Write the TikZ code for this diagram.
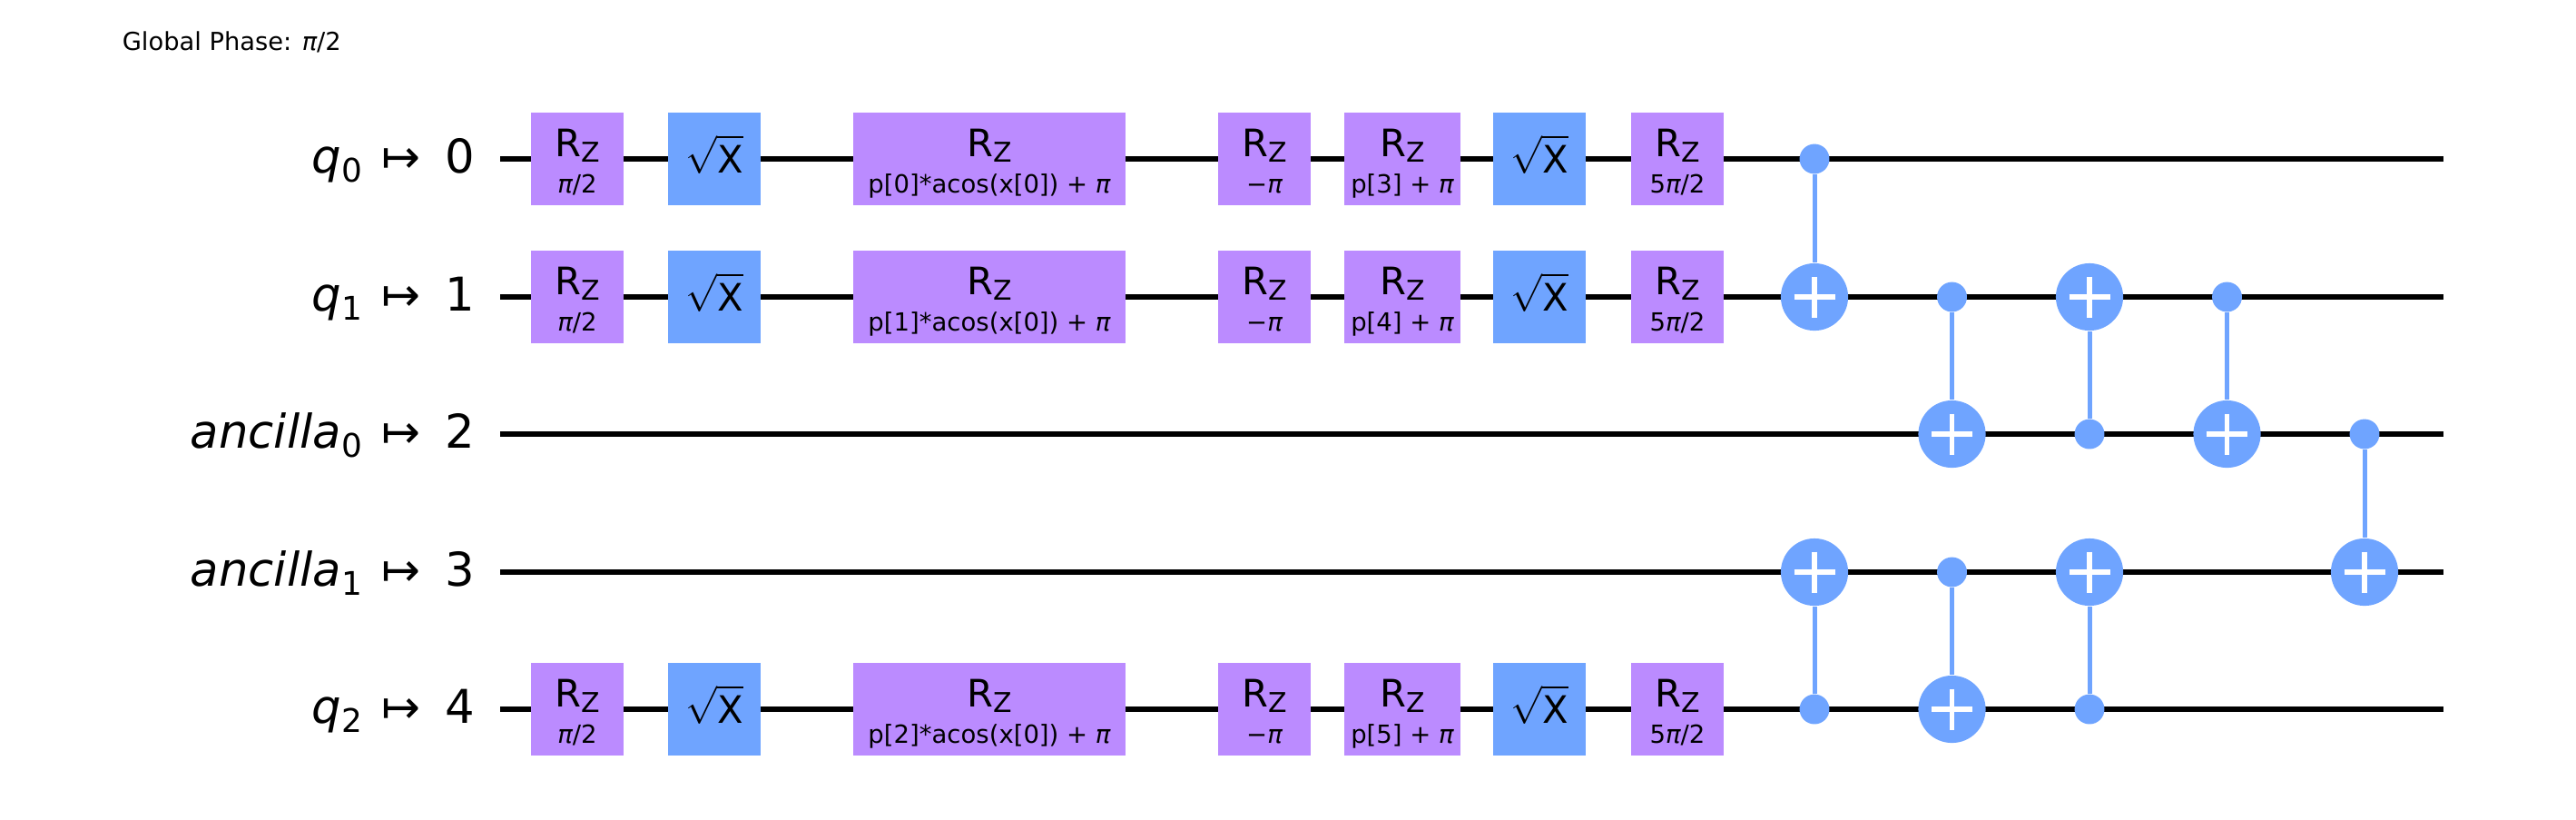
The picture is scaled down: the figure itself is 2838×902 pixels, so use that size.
\documentclass[tikz,border=0pt]{standalone}
\usepackage{fontspec}
\setmainfont{DejaVu Sans}
\usepackage{xcolor}
\definecolor{qcpurple}{RGB}{187,139,255}
\definecolor{qcblue}{RGB}{111,164,255}
\usetikzlibrary{positioning}
\newcommand{\fsub}[2]{\raisebox{-0.2em}{\fontsize{#1}{#1}\selectfont #2}}
\newcommand{\rzlabel}[1]{\raisebox{0.5pt}[0pt][0pt]{\begin{tabular}[t]{@{}c@{}}R\raisebox{-1.4pt}{\fontsize{7.2}{8}\selectfont Z}\\{\fontsize{6.6}{8}\selectfont #1}\end{tabular}}}
\newcommand{\sxlabel}{\raisebox{-3.6pt}[0pt][0pt]{$\sqrt{\rule{0pt}{8.2pt}\mathrm{X}}$}}
\newcommand{\maps}{\hspace{5.2pt}↦\hspace{6.5pt}}
\tikzset{
  wire/.style={line width=1.3pt, black},
  link/.style={line width=1.2pt, qcblue},
  basegate/.style={inner sep=0pt, minimum height=24.5pt, minimum width=24.5pt, font=\fontsize{10}{9.6}\selectfont},
  rzgate/.style={basegate, fill=qcpurple},
  sxgate/.style={basegate, fill=qcblue},
  ctrl/.style={circle, fill=qcblue, inner sep=0pt, minimum size=7.9pt},
  target/.style={circle, fill=qcblue, inner sep=0pt, minimum size=17.8pt,
    path picture={\draw[white, line width=1.4pt] (path picture bounding box.center) ++(-22.5,0) -- ++(45,0) (path picture bounding box.center) ++(0,-22.5) -- ++(0,45);}},
  qlabel/.style={anchor=base east, inner sep=0pt, font=\fontsize{12.3}{14}\selectfont}
}
\begin{document}
\begin{tikzpicture}[x=0.24pt, y=-0.24pt]
  \useasboundingbox (0,0) rectangle (2838,902);
  \node[anchor=base west, inner sep=0pt, font=\fontsize{6.55}{8}\selectfont] (phase) at (134,55) {Global Phase: {\itshape π}/2};

  % Wire labels
  \node[qlabel] (lab0) at (524,190) {{\itshape q}\fsub{8.6}{0}\maps 0};
  \node[qlabel] (lab1) at (524,342) {{\itshape q}\fsub{8.6}{1}\maps 1};
  \node[qlabel] (lab2) at (524,493) {{\itshape ancilla}\fsub{8.6}{0}\maps 2};
  \node[qlabel] (lab3) at (524,645) {{\itshape ancilla}\fsub{8.6}{1}\maps 3};
  \node[qlabel] (lab4) at (524,796) {{\itshape q}\fsub{8.6}{2}\maps 4};

  % Wires
  \coordinate (w0a) at (551,175);  \coordinate (w0b) at (2692,175);
  \coordinate (w1a) at (551,327);  \coordinate (w1b) at (2692,327);
  \coordinate (w2a) at (551,478);  \coordinate (w2b) at (2692,478);
  \coordinate (w3a) at (551,630);  \coordinate (w3b) at (2692,630);
  \coordinate (w4a) at (551,781);  \coordinate (w4b) at (2692,781);
  \draw[wire] (w0a) -- (w0b);
  \draw[wire] (w1a) -- (w1b);
  \draw[wire] (w2a) -- (w2b);
  \draw[wire] (w3a) -- (w3b);
  \draw[wire] (w4a) -- (w4b);

  % Top row: q0
  \node[rzgate] (a1) at (636,175) {\rzlabel{{\itshape π}/2}};
  \node[sxgate] (a2) at (787,175) {\sxlabel};
  \node[rzgate, minimum width=71.8pt] (a3) at (1090,175) {\rzlabel{p[0]*acos(x[0]) + {\itshape π}}};
  \node[rzgate] (a4) at (1393,175) {\rzlabel{−{\itshape π}}};
  \node[rzgate, minimum width=30.7pt] (a5) at (1545,175) {\rzlabel{p[3] + {\itshape π}}};
  \node[sxgate] (a6) at (1696,175) {\sxlabel};
  \node[rzgate] (a7) at (1848,175) {\rzlabel{5{\itshape π}/2}};

  % Second row: q1
  \node[rzgate] (b1) at (636,327) {\rzlabel{{\itshape π}/2}};
  \node[sxgate] (b2) at (787,327) {\sxlabel};
  \node[rzgate, minimum width=71.8pt] (b3) at (1090,327) {\rzlabel{p[1]*acos(x[0]) + {\itshape π}}};
  \node[rzgate] (b4) at (1393,327) {\rzlabel{−{\itshape π}}};
  \node[rzgate, minimum width=30.7pt] (b5) at (1545,327) {\rzlabel{p[4] + {\itshape π}}};
  \node[sxgate] (b6) at (1696,327) {\sxlabel};
  \node[rzgate] (b7) at (1848,327) {\rzlabel{5{\itshape π}/2}};

  % Bottom row: q2
  \node[rzgate] (c1) at (636,781) {\rzlabel{{\itshape π}/2}};
  \node[sxgate] (c2) at (787,781) {\sxlabel};
  \node[rzgate, minimum width=71.8pt] (c3) at (1090,781) {\rzlabel{p[2]*acos(x[0]) + {\itshape π}}};
  \node[rzgate] (c4) at (1393,781) {\rzlabel{−{\itshape π}}};
  \node[rzgate, minimum width=30.7pt] (c5) at (1545,781) {\rzlabel{p[5] + {\itshape π}}};
  \node[sxgate] (c6) at (1696,781) {\sxlabel};
  \node[rzgate] (c7) at (1848,781) {\rzlabel{5{\itshape π}/2}};

  % CX gates
  \node[ctrl] (s1) at (1999,175) {};
  \node[target] (t1) at (1999,327) {};
  \draw[link] (s1) -- (t1);
  \node[ctrl] (s2) at (1999,781) {};
  \node[target] (t2) at (1999,630) {};
  \draw[link] (s2) -- (t2);
  \node[ctrl] (s3) at (2150.5,327) {};
  \node[target] (t3) at (2150.5,478) {};
  \draw[link] (s3) -- (t3);
  \node[ctrl] (s4) at (2150.5,630) {};
  \node[target] (t4) at (2150.5,781) {};
  \draw[link] (s4) -- (t4);
  \node[ctrl] (s5) at (2302,478) {};
  \node[target] (t5) at (2302,327) {};
  \draw[link] (s5) -- (t5);
  \node[ctrl] (s6) at (2302,781) {};
  \node[target] (t6) at (2302,630) {};
  \draw[link] (s6) -- (t6);
  \node[ctrl] (s7) at (2453.5,327) {};
  \node[target] (t7) at (2453.5,478) {};
  \draw[link] (s7) -- (t7);
  \node[ctrl] (s8) at (2605,478) {};
  \node[target] (t8) at (2605,630) {};
  \draw[link] (s8) -- (t8);
\end{tikzpicture}
\end{document}
